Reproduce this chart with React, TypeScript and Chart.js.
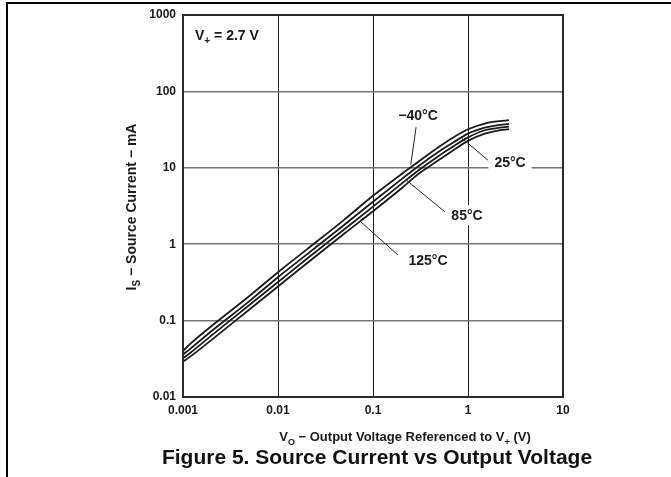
import React, { useEffect, useRef } from "react";
import { Chart, registerables } from "chart.js";

Chart.register(...registerables);

// ---- data ----
const xTickValues = [0.001, 0.01, 0.1, 1, 10];
const xTickLabels = ["0.001", "0.01", "0.1", "1", "10"];
const yTickValues = [0.01, 0.1, 1, 10, 100, 1000];
const yTickLabels = ["0.01", "0.1", "1", "10", "100", "1000"];

const voltage = [0.001, 0.0012, 0.002, 0.005, 0.01, 0.02, 0.05, 0.1, 0.2, 0.3, 0.5, 0.7, 1, 1.5, 2, 2.7];
const iM40 = [0.04, 0.05, 0.085, 0.21, 0.43, 0.85, 2.1, 4.3, 8.3, 12, 19, 25, 32, 38, 40.5, 42];
const i25 = [0.036, 0.043, 0.073, 0.18, 0.37, 0.73, 1.8, 3.6, 7.1, 10.5, 16.5, 21.5, 28, 33.5, 36, 37.5];
const i85 = [0.032, 0.038, 0.064, 0.16, 0.32, 0.64, 1.57, 3.1, 6.2, 9.2, 14.5, 19, 25, 31, 33, 34.5];
const i125 = [0.029, 0.034, 0.056, 0.14, 0.28, 0.56, 1.38, 2.7, 5.4, 8.3, 12.8, 17, 22.5, 28, 30.5, 32];

const seriesNames = ["\u221240\u00B0C", "25\u00B0C", "85\u00B0C", "125\u00B0C"];
const seriesValues = [iM40, i25, i85, i125];

// curve labels: text centre and leader line (from curve point to label end), in data coordinates
const labelCenters = [
  [0.298, 49],
  [2.77, 11.9],
  [0.976, 2.41],
  [0.379, 0.621],
];
const leaderFrom = [
  [0.25, 11],
  [0.85, 24.8],
  [0.228, 6.8],
  [0.073, 2.0],
];
const leaderTo = [
  [0.284, 34],
  [1.62, 12.6],
  [0.573, 2.64],
  [0.183, 0.723],
];

const FONT = '"Liberation Sans", Arial, Helvetica, sans-serif';

type Part = [string, boolean];

function richText(
  ctx: CanvasRenderingContext2D,
  parts: Part[],
  x: number,
  y: number,
  size: number,
  align: "left" | "center" = "center"
) {
  const subSize = Math.round(size * 0.72);
  const fMain = `bold ${size}px ${FONT}`;
  const fSub = `bold ${subSize}px ${FONT}`;
  let total = 0;
  const widths = parts.map(([t, sub]) => {
    ctx.font = sub ? fSub : fMain;
    const w = ctx.measureText(t).width;
    total += w;
    return w;
  });
  let cx = align === "center" ? x - total / 2 : x;
  ctx.textAlign = "left";
  ctx.textBaseline = "alphabetic";
  parts.forEach(([t, sub], i) => {
    ctx.font = sub ? fSub : fMain;
    ctx.fillText(t, cx, sub ? y + size * 0.28 : y);
    cx += widths[i];
  });
}

const annotPlugin = {
  id: "annot",
  afterDraw(chart: any) {
    const { ctx, chartArea: a, scales } = chart;
    const xs = scales.x;
    const ys = scales.y;
    const px = (v: number) => xs.getPixelForValue(v);
    const py = (v: number) => ys.getPixelForValue(v);
    ctx.save();

    // page frame
    ctx.strokeStyle = "#000";
    ctx.lineWidth = 2;
    ctx.beginPath();
    ctx.moveTo(7, 477);
    ctx.lineTo(7, 3);
    ctx.lineTo(671, 3);
    ctx.stroke();

    // plot border
    ctx.strokeStyle = "#2a2a2a";
    ctx.lineWidth = 2;
    ctx.strokeRect(a.left, a.top, a.right - a.left, a.bottom - a.top);

    ctx.fillStyle = "#1a1a1a";

    // V+ = 2.7 V
    richText(ctx, [["V", false], ["+", true], [" = 2.7 V", false]], a.left + 12, a.top + 25, 14, "left");

    // curve labels
    seriesNames.forEach((name, i) => {
      ctx.strokeStyle = "#222";
      ctx.lineWidth = 1;
      ctx.beginPath();
      ctx.moveTo(px(leaderFrom[i][0]), py(leaderFrom[i][1]));
      ctx.lineTo(px(leaderTo[i][0]), py(leaderTo[i][1]));
      ctx.stroke();
      const cx = px(labelCenters[i][0]);
      const cy = py(labelCenters[i][1]);
      ctx.font = `bold 14px ${FONT}`;
      const w = ctx.measureText(name).width;
      ctx.fillStyle = "#fff";
      ctx.fillRect(cx - w / 2 - 6, cy - 10, w + 12, 20);
      ctx.fillStyle = "#1a1a1a";
      ctx.textAlign = "center";
      ctx.textBaseline = "middle";
      ctx.fillText(name, cx, cy + 1);
    });

    // x axis title
    richText(
      ctx,
      [["V", false], ["O", true], [" \u2212 Output Voltage Referenced to V", false], ["+", true], [" (V)", false]],
      405,
      441,
      13
    );

    // y axis title (rotated)
    ctx.save();
    ctx.translate(136, 207);
    ctx.rotate(-Math.PI / 2);
    richText(ctx, [["I", false], ["S", true], [" \u2212 Source Current \u2212 mA", false]], 0, 0, 14);
    ctx.restore();

    // caption
    ctx.fillStyle = "#111";
    richText(ctx, [["Figure 5. Source Current vs Output Voltage", false]], 377, 464, 21);

    ctx.restore();
  },
};

const tickFont = { family: FONT, weight: "bold" as const, size: 12 };

function labelFor(values: number[], labels: string[], v: number) {
  const i = values.findIndex((t) => Math.abs(Math.log10(t) - Math.log10(v)) < 1e-6);
  return i >= 0 ? labels[i] : "";
}

export default function App() {
  const ref = useRef<HTMLCanvasElement>(null);
  useEffect(() => {
    const datasets = seriesNames.map((name, i) => ({
      label: name,
      data: voltage.map((v, j) => ({ x: v, y: seriesValues[i][j] })),
      borderColor: "#1a1a1a",
      borderWidth: 1.8,
      pointRadius: 0,
      fill: false,
      cubicInterpolationMode: "monotone" as const,
    }));
    const chart = new Chart(ref.current as HTMLCanvasElement, {
      type: "line",
      data: { datasets },
      options: {
        animation: false,
        responsive: true,
        maintainAspectRatio: false,
        layout: { padding: { left: 0, top: 15, right: 108, bottom: 0 } },
        plugins: { legend: { display: false }, tooltip: { enabled: false } },
        scales: {
          x: {
            type: "logarithmic",
            min: 0.001,
            max: 10,
            afterBuildTicks: (s: any) => {
              s.ticks = xTickValues.map((v) => ({ value: v }));
            },
            afterFit: (s: any) => {
              s.height = 80;
            },
            ticks: {
              callback: (v: any) => labelFor(xTickValues, xTickLabels, Number(v)),
              font: tickFont,
              color: "#1a1a1a",
              padding: 6,
              maxRotation: 0,
              autoSkip: false,
            },
            grid: { color: "#1e1e1e", lineWidth: 1, drawTicks: false },
            border: { display: false },
          },
          y: {
            type: "logarithmic",
            min: 0.01,
            max: 1000,
            afterBuildTicks: (s: any) => {
              s.ticks = yTickValues.map((v) => ({ value: v }));
            },
            afterFit: (s: any) => {
              s.width = 183;
            },
            ticks: {
              callback: (v: any) => labelFor(yTickValues, yTickLabels, Number(v)),
              font: tickFont,
              color: "#1a1a1a",
              padding: 7,
              autoSkip: false,
            },
            grid: { color: "#777", lineWidth: 1.5, drawTicks: false },
            border: { display: false },
          },
        },
      },
      plugins: [annotPlugin],
    });
    return () => chart.destroy();
  }, []);
  return (
    <div style={{ position: "fixed", left: 0, top: 0, width: 671, height: 477, background: "#fff" }}>
      <canvas ref={ref} />
    </div>
  );
}
